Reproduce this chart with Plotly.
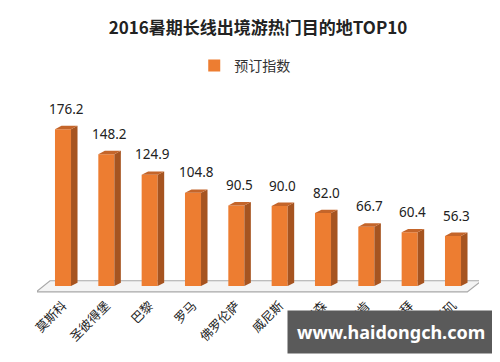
import plotly.graph_objects as go

categories = ["莫斯科", "圣彼得堡", "巴黎", "罗马", "佛罗伦萨", "威尼斯", "琉森", "因特拉肯", "迪拜", "洛杉矶"]
values = [176.2, 148.2, 124.9, 104.8, 90.5, 90.0, 82.0, 66.7, 60.4, 56.3]
series_name = "预订指数"
title_text = "2016暑期长线出境游热门目的地TOP10"

FRONT = "#ED7D31"
SIDE = "#A65420"
TOP = "#C4652A"
W = 0.37   # bar width (category units)
DX = 0.15  # depth offset x
DY = 3.8   # depth offset y

xs = list(range(len(categories)))
fig = go.Figure()
fig.add_trace(go.Bar(x=xs, y=values, width=W, name=series_name,
                     marker=dict(color=FRONT, line=dict(width=0)),
                     showlegend=True, hoverinfo="skip"))

shapes = []
n = len(categories)
shapes.append(dict(type="path", xref="x", yref="y", layer="below",
                   path=f"M -0.62 -6.5 L {n-1+0.33} -6.5 L {n-1+0.66} 6 L -0.3 6 Z",
                   fillcolor="#F4F4F4", line=dict(color="#A8A8A8", width=1.2)))
for i, v in enumerate(values):
    r = i + W / 2
    l = i - W / 2
    shapes.append(dict(type="path", xref="x", yref="y", layer="above",
                       path=f"M {r} 0 L {r+DX} {DY} L {r+DX} {v+DY} L {r} {v} Z",
                       fillcolor=SIDE, line=dict(width=0)))
    shapes.append(dict(type="path", xref="x", yref="y", layer="above",
                       path=f"M {l} {v} L {l+DX} {v+DY} L {r+DX} {v+DY} L {r} {v} Z",
                       fillcolor=TOP, line=dict(width=0)))

annotations = []
for i, v in enumerate(values):
    annotations.append(dict(x=i + DX / 2, y=v + DY, xref="x", yref="y", text=f"{v:.1f}",
                            showarrow=False, yanchor="bottom", yshift=6,
                            font=dict(size=13.5, color="#222222", family="Noto Sans, Liberation Sans, sans-serif")))

fig.update_layout(
    width=500, height=362,
    margin=dict(l=29, r=29, t=100, b=75),
    paper_bgcolor="white", plot_bgcolor="white",
    title=dict(text="<b>" + title_text + "</b>", x=0.5, xanchor="center", y=0.945, yanchor="middle",
               font=dict(size=17, color="#222222", family="Noto Sans CJK SC, sans-serif")),
    legend=dict(orientation="h", x=0.47, xanchor="center", y=1.225, yanchor="middle",
                font=dict(size=14, color="#333333", family="Noto Sans CJK SC, sans-serif")),
    xaxis=dict(range=[-0.6, n - 1 + 0.6], tickvals=xs, ticktext=categories, tickangle=-45,
               showgrid=False, zeroline=False, showline=False, ticks="", automargin=False,
               tickfont=dict(size=12.5, color="#222222", family="Noto Sans CJK SC, sans-serif")),
    yaxis=dict(range=[-10, 200], visible=False, showgrid=False, zeroline=False, automargin=False),
    shapes=shapes, annotations=annotations,
    bargap=0.5,
)
# watermark overlay as in reference
fig.add_annotation(x=0.8, y=-0.2, xref="paper", yref="paper", text="<b>www.haidongch.com</b>",
                   showarrow=False, font=dict(size=18, color="#FFFFFF", family="Noto Sans, sans-serif"),
                   bgcolor="#5A5A5A", borderpad=9, xanchor="center", yanchor="middle")

fig.write_html("out.html")
